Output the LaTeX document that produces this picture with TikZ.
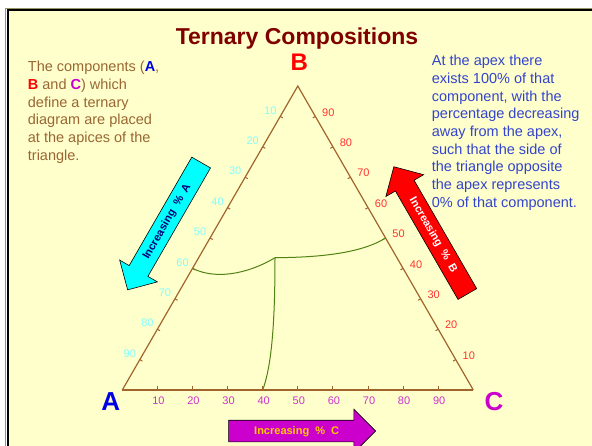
\documentclass[tikz,border=0pt]{standalone}
\usepackage{fontspec}
\setmainfont{Liberation Sans}
\usetikzlibrary{calc,shapes.arrows}

\definecolor{slide}{RGB}{255,255,204}
\definecolor{edgeolive}{RGB}{150,150,100}
\definecolor{axis}{RGB}{160,100,45}
\definecolor{txtbrown}{RGB}{153,102,51}
\definecolor{txtblue}{RGB}{51,68,204}
\definecolor{titlered}{RGB}{128,0,0}
\definecolor{compA}{RGB}{0,0,230}
\definecolor{compB}{RGB}{255,0,0}
\definecolor{compC}{RGB}{204,0,204}
\definecolor{labA}{RGB}{128,255,255}
\definecolor{labB}{RGB}{255,51,51}
\definecolor{labC}{RGB}{204,51,204}
\definecolor{tieline}{RGB}{80,130,20}
\definecolor{navytext}{RGB}{0,0,120}
\definecolor{goldtext}{RGB}{255,204,0}
\definecolor{arrcyan}{RGB}{0,255,255}
\definecolor{arrred}{RGB}{255,0,0}

\begin{document}
\begin{tikzpicture}[x=1pt,y=-1pt,
  every node/.style={inner sep=0pt},
  side/.style={draw=axis,line width=1.2pt},
  baseside/.style={draw=axis,line width=2pt},
  tick/.style={draw=axis,line width=1pt},
  ticklab/.style={font=\fontsize{11}{13}\selectfont},
  tie/.style={draw=tieline,line width=1pt},
  apex/.style={font=\fontsize{26}{28}\selectfont\bfseries,anchor=base},
  note/.style={font=\fontsize{14.5}{17.7}\selectfont,align=left,anchor=north west},
  arr/.style={single arrow,draw=black,line width=0.6pt,single arrow head extend=11pt,
              minimum height=147pt,inner xsep=4pt,inner ysep=5.5pt,text height=8pt,
              text depth=2pt,anchor=tail,font=\fontsize{11}{13}\selectfont\bfseries},
  flipped/.style={text height=2pt,text depth=8pt}
]
\useasboundingbox (0,0) rectangle (592,446);
\fill[white] (0,0) rectangle (592,446);
\fill[slide] (7,10) rectangle (592,446);
\draw[edgeolive,line width=0.8pt] (5.6,446) -- (5.6,8.4) -- (592,8.4);
\draw[black,line width=2pt] (7.5,446) -- (7.5,10.5) -- (592,10.5);

% triangle corners
\coordinate (A) at (122.3,390);
\coordinate (C) at (473.3,390);
\coordinate (B) at (297.8,86);

\node[font=\fontsize{23}{25}\selectfont\bfseries,text=titlered,anchor=base] (title) at (297,44.3) {Ternary Compositions};

\node[note,text=txtbrown] (leftnote) at (27.7,61) {The components ({\bfseries\color{compA}A},\\
{\bfseries\color{compB}B} and {\bfseries\color{compC}C}) which\\ define a ternary\\ diagram are placed\\
at the apices of the\\ triangle.};
\node[note,text=txtblue] (rightnote) at (431.7,55) {At the apex there\\ exists 100\% of that\\
component, with the\\ percentage decreasing\\ away from the apex,\\ such that the side of\\
the triangle opposite\\ the apex represents\\ 0\% of that component.};

% arrows
\node[arr,flipped,fill=arrcyan,text=navytext,rotate=240] (arrowA) at (201.3,162.3) {\rotatebox{180}{Increasing~~\%~~A}};
\node[arr,flipped,fill=arrred,text=white,rotate=120] (arrowB) at (467.5,294.3) {\rotatebox{180}{Increasing~~\%~~B}};
\node[arr,fill=compC,text=goldtext] (arrowC) at (228.3,431) {Increasing~~\%~~C};

% ticks and scale labels
\foreach \v in {10,20,...,90}{
  \coordinate (lt\v) at ($(B)!\v/100!(A)$);
  \coordinate (rt\v) at ($(C)!\v/100!(B)$);
  \coordinate (bt\v) at ($(A)!\v/100!(C)$);
  \draw[tick] (lt\v) -- ++(2.6,1.5);
  \draw[tick] (rt\v) -- ++(-2.6,1.5);
  \draw[tick] (bt\v) -- ++(0,-4);
  \node[ticklab,text=labA] (ll\v) at ($(lt\v)+(-10,-6)$) {\v};
  \node[ticklab,text=labB] (rl\v) at ($(rt\v)+(13,-4)$) {\v};
  \node[ticklab,text=labC] (bl\v) at ($(bt\v)+(1,11)$) {\v};
}

% green boundaries
\coordinate (L) at ($(B)!0.6!(A)$);
\coordinate (R) at ($(B)!0.5!(C)$);
\coordinate (D) at ($(A)!0.4!(C)$);
\coordinate (J) at (275,257.7);
\draw[tie] (L) .. controls (220,282) and (255,270) .. (J);
\draw[tie] (J) .. controls (320,257.5) and (362,253) .. (R);
\draw[tie] (J) .. controls (275,320) and (272,365) .. (D);

\draw[side] (A) -- (B) -- (C);
\draw[baseside] (A) -- (C);

\node[apex,text=compA] (labelA) at (110.7,410) {A};
\node[apex,text=compB,font=\fontsize{24}{26}\selectfont\bfseries] (labelB) at (299.3,71) {B};
\node[apex,text=compC] (labelC) at (494,410) {C};
\end{tikzpicture}
\end{document}
